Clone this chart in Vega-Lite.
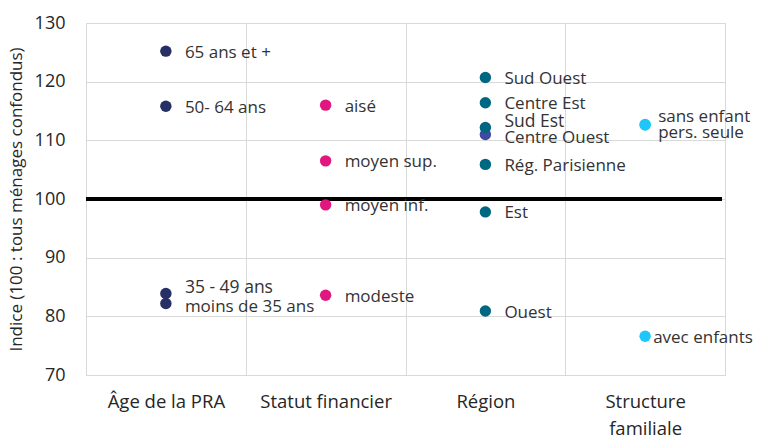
{
  "$schema": "https://vega.github.io/schema/vega-lite/v6.json",
  "autosize": "none",
  "width": 639,
  "height": 352,
  "padding": {"left": 86, "top": 23, "right": 36, "bottom": 64},
  "background": "white",
  "config": {
    "font": "Open Sans",
    "view": {"stroke": "#d9d9d9", "strokeWidth": 1},
    "axis": {"gridColor": "#d9d9d9", "gridWidth": 1, "ticks": false, "domain": false, "labelColor": "#262626", "titleColor": "#262626", "labelFont": "Open Sans", "titleFont": "Open Sans", "titleFontWeight": "normal"}
  },
  "data": {
    "values": [
      {"categorie": "Âge de la PRA", "label": "65 ans et +", "indice": 125.2},
      {"categorie": "Âge de la PRA", "label": "50- 64 ans", "indice": 115.8},
      {"categorie": "Âge de la PRA", "label": "35 - 49 ans", "indice": 83.9},
      {"categorie": "Âge de la PRA", "label": "moins de 35 ans", "indice": 82.2},
      {"categorie": "Statut financier", "label": "aisé", "indice": 116.0},
      {"categorie": "Statut financier", "label": "moyen sup.", "indice": 106.5},
      {"categorie": "Statut financier", "label": "moyen inf.", "indice": 99.0},
      {"categorie": "Statut financier", "label": "modeste", "indice": 83.6},
      {"categorie": "Région", "label": "Sud Ouest", "indice": 120.7},
      {"categorie": "Région", "label": "Centre Est", "indice": 116.4},
      {"categorie": "Région", "label": "Centre Ouest", "indice": 111.0},
      {"categorie": "Région", "label": "Sud Est", "indice": 112.2},
      {"categorie": "Région", "label": "Rég. Parisienne", "indice": 105.9},
      {"categorie": "Région", "label": "Est", "indice": 97.8},
      {"categorie": "Région", "label": "Ouest", "indice": 80.9},
      {"categorie": "Structure familiale", "label": "sans enfant", "indice": 112.7},
      {"categorie": "Structure familiale", "label": "pers. seule", "indice": 112.6},
      {"categorie": "Structure familiale", "label": "avec enfants", "indice": 76.6}
    ]
  },
  "encoding": {
    "x": {
      "field": "categorie", "type": "nominal",
      "sort": ["Âge de la PRA", "Statut financier", "Région", "Structure familiale"],
      "scale": {"type": "band", "paddingInner": 0, "paddingOuter": 0},
      "axis": {
        "title": null, "labelAngle": 0, "grid": true, "tickBand": "extent",
        "labelFontSize": 18.5, "labelPadding": 17, "labelLineHeight": 27, "labelBaseline": "top",
        "labelExpr": "datum.label == 'Structure familiale' ? ['Structure', 'familiale'] : datum.label"
      }
    },
    "y": {
      "field": "indice", "type": "quantitative",
      "scale": {"domain": [70, 130], "nice": false, "zero": false},
      "axis": {
        "title": "Indice (100 : tous ménages confondus)", "values": [70, 80, 90, 100, 110, 120, 130],
        "grid": true, "labelFontSize": 18, "labelPadding": 21, "titleFontSize": 17, "titlePadding": 9
      }
    }
  },
  "layer": [
    {
      "mark": {"type": "rule", "color": "black", "strokeWidth": 2.5},
      "encoding": {"y": {"datum": 100}, "x": {"value": 0}, "x2": {"value": 636}}
    },
    {
      "mark": {"type": "circle", "size": 130, "opacity": 1},
      "encoding": {
        "color": {
          "condition": {"test": "datum.label === 'Centre Ouest'", "value": "#404aa0"},
          "field": "categorie", "type": "nominal",
          "scale": {"domain": ["Âge de la PRA", "Statut financier", "Région", "Structure familiale"], "range": ["#262f66", "#e0177f", "#006782", "#1fc6fa"]},
          "legend": null
        }
      }
    },
    {
      "transform": [{"filter": "datum.categorie != 'Structure familiale' && indexof(['35 - 49 ans', 'moins de 35 ans', 'Sud Est', 'Centre Ouest'], datum.label) < 0"}],
      "mark": {"type": "text", "align": "left", "baseline": "middle", "dx": 19, "dy": 1.5, "fontSize": 17, "color": "#333333"},
      "encoding": {"text": {"field": "label"}}
    },
    {
      "transform": [{"filter": "datum.label == '35 - 49 ans' || datum.label == 'Sud Est'"}],
      "mark": {"type": "text", "align": "left", "baseline": "middle", "dx": 19, "dy": -5, "fontSize": 17.5, "color": "#333333"},
      "encoding": {"text": {"field": "label"}}
    },
    {
      "transform": [{"filter": "datum.label == 'moins de 35 ans' || datum.label == 'Centre Ouest'"}],
      "mark": {"type": "text", "align": "left", "baseline": "middle", "dx": 19, "dy": 4, "fontSize": 17, "color": "#333333"},
      "encoding": {"text": {"field": "label"}}
    },
    {
      "transform": [{"filter": "datum.label == 'sans enfant'"}],
      "mark": {"type": "text", "align": "left", "baseline": "middle", "dx": 13, "dy": -7, "fontSize": 17, "color": "#333333"},
      "encoding": {"text": {"field": "label"}}
    },
    {
      "transform": [{"filter": "datum.label == 'pers. seule'"}],
      "mark": {"type": "text", "align": "left", "baseline": "middle", "dx": 13, "dy": 8, "fontSize": 17, "color": "#333333"},
      "encoding": {"text": {"field": "label"}}
    },
    {
      "transform": [{"filter": "datum.label == 'avec enfants'"}],
      "mark": {"type": "text", "align": "left", "baseline": "middle", "dx": 8, "dy": 2, "fontSize": 17, "color": "#333333"},
      "encoding": {"text": {"field": "label"}}
    }
  ]
}
